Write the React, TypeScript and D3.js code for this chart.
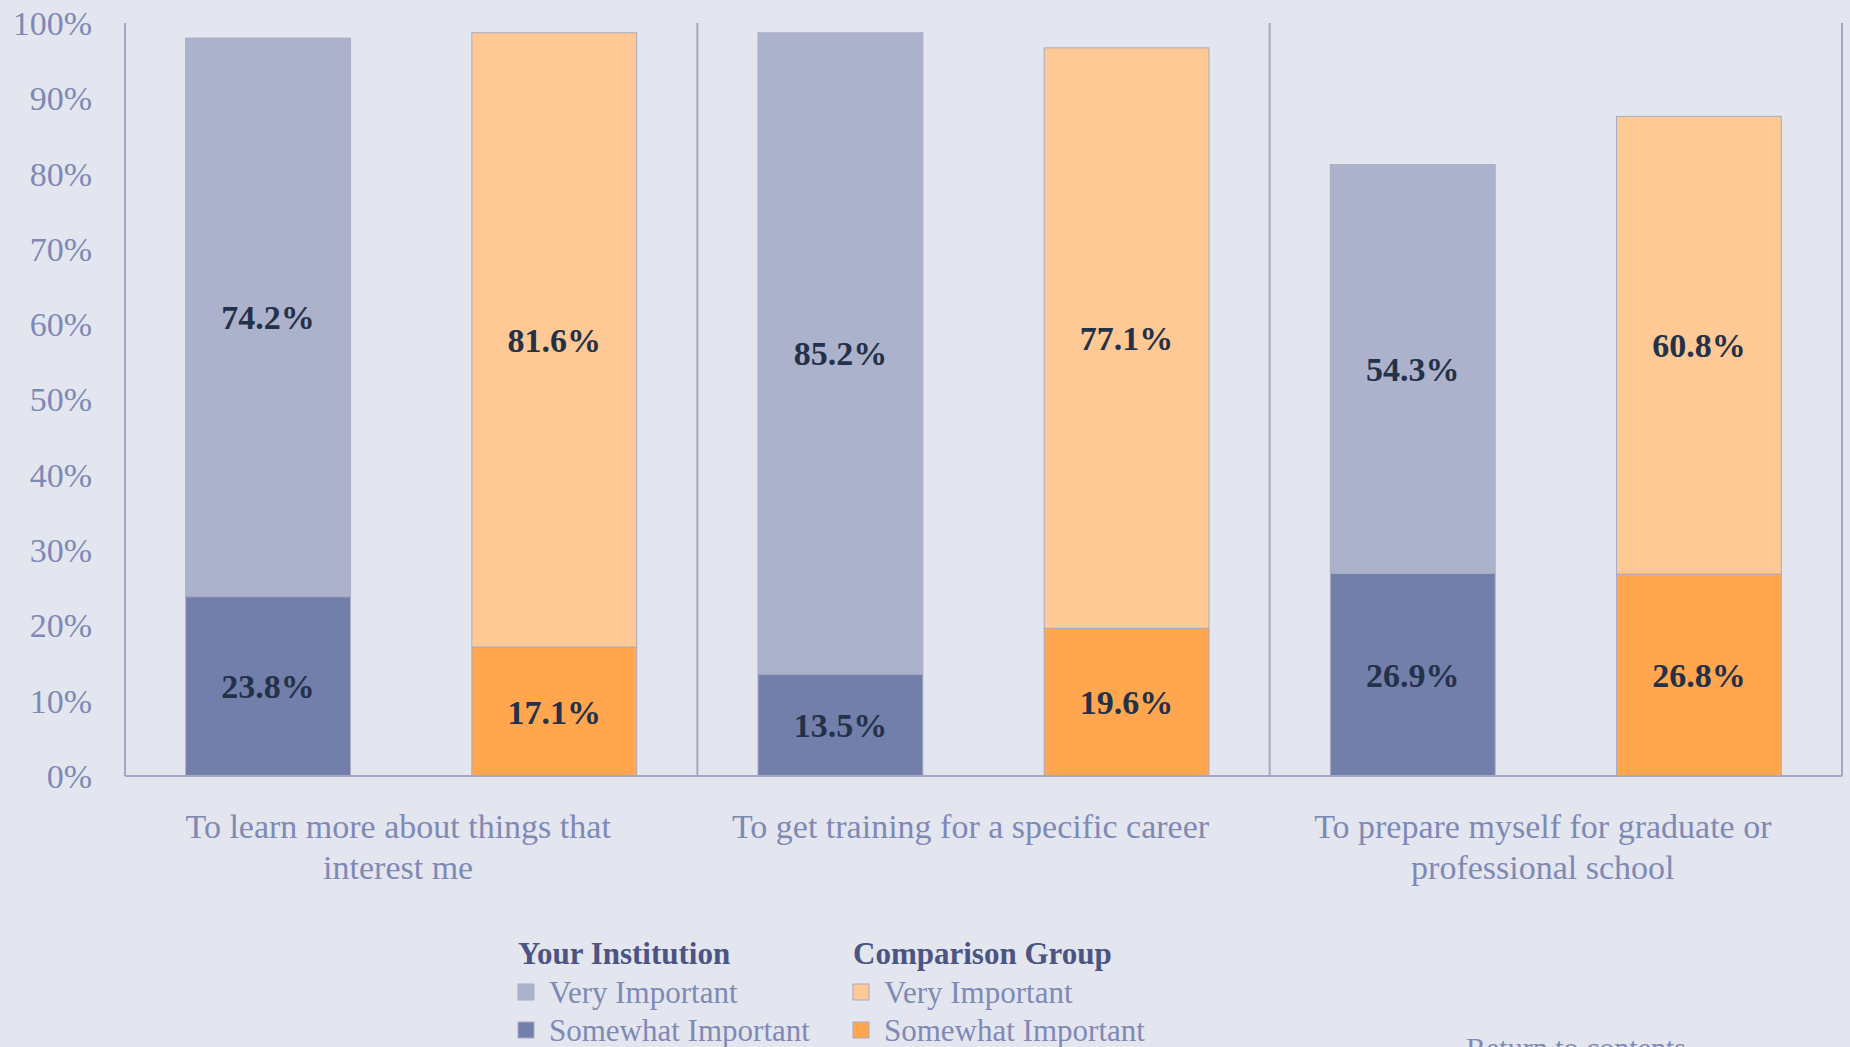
import * as d3 from 'd3'

const categories = [
  ['To learn more about things that', 'interest me'],
  ['To get training for a specific career'],
  ['To prepare myself for graduate or', 'professional school'],
]
const groups = ['Your Institution', 'Comparison Group']
const somewhatInst = [23.8, 13.5, 26.9]
const veryInst = [74.2, 85.2, 54.3]
const somewhatComp = [17.1, 19.6, 26.8]
const veryComp = [81.6, 77.1, 60.8]
const yTicks = [0, 10, 20, 30, 40, 50, 60, 70, 80, 90, 100]

const W = 1850
const H = 1047
const margin = { top: 23, right: 8, bottom: 271, left: 125 }
const FONT = '"Liberation Serif", "Times New Roman", serif'

const colors = {
  bg: '#e3e6ee',
  axis: '#a3a8c5',
  tick: '#7f89b5',
  label: '#233149',
  instVery: '#adb2cc',
  instSome: '#737fab',
  compVery: '#ffc995',
  compSome: '#ffa64f',
  legendHead: '#4b5482',
}

export default function App() {
  const x0 = d3
    .scaleBand<number>()
    .domain(categories.map((_, i) => i))
    .range([margin.left, W - margin.right])
  const x1 = d3
    .scaleBand<string>()
    .domain(groups)
    .range([0, x0.bandwidth()])
    .paddingInner(0.424)
    .paddingOuter(0.212)
  const y = d3
    .scaleLinear()
    .domain([0, 100])
    .range([H - margin.bottom, margin.top])

  const bars = categories.flatMap((_, i) => [
    { g: groups[0], i, lower: somewhatInst[i], upper: veryInst[i], cLow: colors.instSome, cUp: colors.instVery },
    { g: groups[1], i, lower: somewhatComp[i], upper: veryComp[i], cLow: colors.compSome, cUp: colors.compVery },
  ])

  const bw = x1.bandwidth()
  const baseY = y(0)

  return (
    <svg
      width={W}
      height={H}
      style={{ position: 'absolute', left: 0, top: 0, display: 'block' }}
      fontFamily={FONT}
    >
      <rect x={0} y={0} width={W} height={H} fill={colors.bg} />

      {/* y tick labels */}
      {yTicks.map(t => (
        <text
          key={t}
          x={92}
          y={y(t)}
          dy="0.35em"
          textAnchor="end"
          fontSize={34}
          fill={colors.tick}
        >
          {t}%
        </text>
      ))}

      {/* bars */}
      {bars.map(b => {
        const bx = x0(b.i)! + x1(b.g)!
        const yLow = y(b.lower)
        const yUp = y(b.lower + b.upper)
        return (
          <g key={b.g + b.i}>
            <rect
              x={bx}
              y={yUp}
              width={bw}
              height={yLow - yUp}
              fill={b.cUp}
              stroke="#a9aac4"
              strokeWidth={1}
            />
            <rect
              x={bx}
              y={yLow}
              width={bw}
              height={baseY - yLow}
              fill={b.cLow}
              stroke="#a9aac4"
              strokeWidth={1}
            />
            <text
              x={bx + bw / 2}
              y={(yLow + yUp) / 2}
              dy="0.35em"
              textAnchor="middle"
              fontSize={34}
              fontWeight="bold"
              fill={colors.label}
            >
              {b.upper.toFixed(1)}%
            </text>
            <text
              x={bx + bw / 2}
              y={(baseY + yLow) / 2}
              dy="0.35em"
              textAnchor="middle"
              fontSize={34}
              fontWeight="bold"
              fill={colors.label}
            >
              {b.lower.toFixed(1)}%
            </text>
          </g>
        )
      })}

      {/* axes */}
      <line x1={margin.left} x2={margin.left} y1={y(100)} y2={baseY} stroke={colors.axis} strokeWidth={2} />
      {categories.map((_, i) => {
        const xr = x0(i)! + x0.bandwidth()
        return (
          <line key={i} x1={xr} x2={xr} y1={y(100)} y2={baseY} stroke={colors.axis} strokeWidth={2} />
        )
      })}
      <line x1={margin.left} x2={W - margin.right} y1={baseY} y2={baseY} stroke={colors.axis} strokeWidth={2} />

      {/* category labels */}
      {categories.map((lines, i) => {
        const cx = x0(i)! + x0.bandwidth() / 2 - 13
        return (
          <text key={i} x={cx} y={826} textAnchor="middle" fontSize={34} fill={colors.tick}>
            {lines.map((l, j) => (
              <tspan key={j} x={cx} dy={j === 0 ? '0.35em' : 41}>
                {l}
              </tspan>
            ))}
          </text>
        )
      })}

      {/* legend */}
      {[
        { head: groups[0], x: 518, items: [['Very Important', colors.instVery], ['Somewhat Important', colors.instSome]] },
        { head: groups[1], x: 853, items: [['Very Important', colors.compVery], ['Somewhat Important', colors.compSome]] },
      ].map(col => (
        <g key={col.head}>
          <text x={col.x} y={953} dy="0.35em" fontSize={31} fontWeight="bold" fill={colors.legendHead}>
            {col.head}
          </text>
          {col.items.map(([name, c], k) => (
            <g key={name}>
              <rect
                x={col.x}
                y={984 + k * 38}
                width={16}
                height={16}
                fill={c}
                stroke="#a9aac4"
                strokeWidth={1}
              />
              <text x={col.x + 31} y={992 + k * 38} dy="0.35em" fontSize={31} fill={colors.tick}>
                {name}
              </text>
            </g>
          ))}
        </g>
      ))}

      <text x={1466} y={1058} fontSize={30} fill={colors.tick}>
        Return to contents
      </text>
    </svg>
  )
}
